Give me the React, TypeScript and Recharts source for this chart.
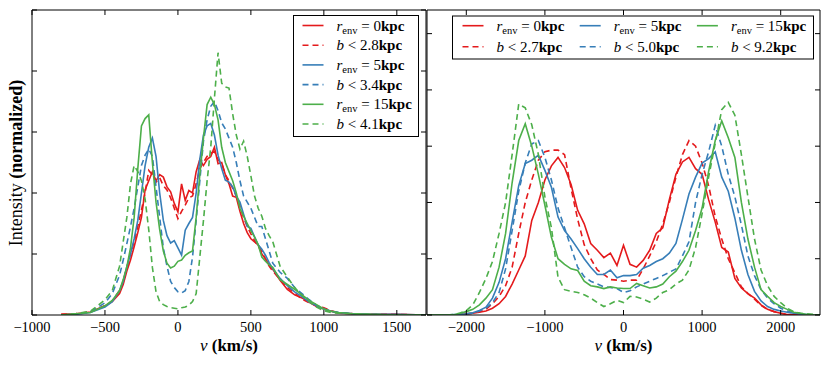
import React from 'react';
import { LineChart, Line, XAxis, YAxis } from 'recharts';

const SERIF = 'Liberation Serif, DejaVu Serif, serif';
const RED = '#e41a1c';
const BLUE = '#377eb8';
const GREEN = '#4daf4a';
const DASH = '6 4';

// left panel, velocity grid (km/s)
const leftVelocity = [
  -800, -700, -600, -500, -450, -400,
  -375, -350, -325, -300, -275, -250, -225, -200, -175, -150,
  -125, -100, -75, -50, -25, 0,
  25, 50, 75, 100, 125, 150, 175, 200, 225, 250,
  275, 300, 325, 350, 375, 400, 425, 450, 475, 500,
  525, 550, 575, 600, 625, 650,
  700, 750, 800, 850, 900, 950, 1000, 1050, 1100,
  1200, 1300, 1500, 1700,
];
const leftR0 = [
  0.01, 0.02, 0.05, 0.15, 0.22, 0.35,
  0.5, 0.72, 0.9, 1.12, 1.35, 1.6, 2.05, 2.2, 2.35, 2.2,
  2.3, 2.26, 2.1, 2.02, 1.83, 1.69,
  2.15, 1.88, 2.04, 2.0, 2.35, 2.55, 2.45, 2.55, 2.6, 2.75,
  2.48, 2.5, 2.3, 2.15, 1.95, 1.93, 1.7, 1.5, 1.35, 1.25,
  1.2, 1.15, 1.0, 0.92, 0.82, 0.75,
  0.57, 0.42, 0.33, 0.28, 0.21, 0.14, 0.1, 0.06, 0.03,
  0.02, 0.01, 0.01, 0,
];
const leftB0 = [
  0.01, 0.02, 0.05, 0.15, 0.23, 0.4,
  0.55, 0.78, 1.0, 1.2, 1.45, 1.72, 2.0, 2.37, 2.3, 2.18,
  2.25, 2.12, 2.05, 1.92, 1.75, 1.58,
  1.7, 1.8, 1.92, 1.95, 2.15, 2.4, 2.5, 2.6, 2.65, 2.68,
  2.55, 2.48, 2.3, 2.2, 2.08, 1.95, 1.78, 1.6, 1.45, 1.33,
  1.22, 1.13, 1.05, 0.92, 0.8, 0.72,
  0.58, 0.45, 0.36, 0.26, 0.2, 0.15, 0.12, 0.07, 0.04,
  0.02, 0.01, 0.01, 0,
];
const leftR5 = [
  0, 0.01, 0.04, 0.13, 0.22, 0.4,
  0.55, 0.79, 1.0, 1.25, 1.55, 2.0, 2.45, 2.75, 2.9, 2.6,
  2.0, 1.55, 1.3, 1.18, 1.22, 1.1,
  0.98, 1.39, 1.5, 1.6, 2.0, 2.55, 2.95, 3.1, 3.14, 2.95,
  2.62, 2.4, 2.21, 2.18, 2.1, 1.95, 1.85, 1.65, 1.45, 1.42,
  1.28, 1.15, 1.08, 0.98, 0.86, 0.76,
  0.6, 0.48, 0.38, 0.3, 0.21, 0.15, 0.1, 0.06, 0.04,
  0.02, 0.01, 0.01, 0,
];
const leftB5 = [
  0, 0.01, 0.05, 0.2, 0.35, 0.65,
  0.9, 1.17, 1.45, 1.75, 2.1, 2.45, 2.62, 2.72, 2.6, 2.1,
  1.6, 1.1, 0.8, 0.55, 0.45, 0.38,
  0.36, 0.4, 0.55, 0.95, 1.55, 2.2, 2.85, 3.2, 3.42, 3.5,
  3.35, 3.15, 3.05, 2.9, 2.75, 2.5, 2.2, 1.95, 1.85, 1.75,
  1.6, 1.45, 1.45, 1.25, 1.05, 0.85,
  0.7, 0.6, 0.45, 0.35, 0.25, 0.16, 0.1, 0.06, 0.04,
  0.02, 0.01, 0, 0,
];
const leftR15 = [
  0, 0.02, 0.04, 0.15, 0.24, 0.4,
  0.58, 0.79, 1.1, 1.6, 2.4, 3.1, 3.22, 3.28, 2.5, 1.85,
  1.4, 1.05, 0.85, 0.77, 0.8, 0.88,
  0.9, 0.98, 1.02, 1.05, 1.6, 2.3, 2.9, 3.45, 3.57, 3.45,
  3.2, 2.75, 2.5, 2.35, 2.2, 2.0, 1.75, 1.62, 1.5, 1.38,
  1.28, 1.15, 0.95, 0.88, 0.82, 0.78,
  0.58, 0.5, 0.42, 0.33, 0.24, 0.17, 0.1, 0.06, 0.04,
  0.02, 0.01, 0, 0,
];
const leftB15 = [
  0, 0.02, 0.06, 0.25, 0.4, 0.8,
  1.2, 1.6, 2.15, 2.45, 2.35, 2.2, 1.9, 1.4, 0.78, 0.38,
  0.22, 0.17, 0.14, 0.12, 0.11, 0.1,
  0.12, 0.13, 0.16, 0.22, 0.35, 0.95, 1.55, 2.2, 2.75, 3.55,
  4.3, 3.8, 3.74, 3.72, 3.3, 2.95, 2.72, 2.85, 2.6, 2.28,
  1.95, 1.75, 1.62, 1.42, 1.3, 1.2,
  0.8, 0.62, 0.45, 0.32, 0.22, 0.13, 0.07, 0.04, 0.03,
  0.02, 0.01, 0, 0,
];

// right panel, velocity bins (km/s)
const rightVelocity = [
  -2500, -2417, -2333, -2250, -2167, -2083, -2000, -1917, -1833, -1750,
  -1667, -1583, -1500, -1417, -1333, -1250, -1167, -1083, -1000, -917,
  -833, -750, -667, -583, -500, -417, -333, -250, -167, -83,
  0,
  83, 167, 250, 333, 417, 500, 583, 667, 750, 833,
  917, 1000, 1083, 1167, 1250, 1333, 1417, 1500, 1583, 1667,
  1750, 1833, 1917, 2000, 2083, 2167, 2250, 2333, 2417, 2500,
];
const rightR0 = [
  0, 0, 0, 0, 0, 0.01, 0.02, 0.03, 0.05, 0.07,
  0.12, 0.2, 0.33, 0.55, 0.8, 1.05, 1.68, 2.0, 2.4, 2.65,
  2.8, 2.62, 2.32, 1.86, 1.62, 1.27, 1.15, 1.02, 1.1, 0.88,
  1.24,
  0.9, 0.85, 0.97, 1.15, 1.45, 1.55, 2.05, 2.5, 2.72, 2.8,
  2.6, 2.5, 2.05, 1.65, 1.2, 1.12, 0.65, 0.48, 0.38, 0.3,
  0.18, 0.1, 0.06, 0.03, 0.01, 0.01, 0, 0, 0, 0,
];
const rightB0 = [
  0, 0, 0, 0, 0, 0.01, 0.02, 0.03, 0.06, 0.1,
  0.2, 0.33, 0.52, 0.85, 1.45, 2.0, 2.4, 2.75, 2.9, 2.93,
  2.93, 2.85, 2.25, 1.7, 1.25, 1.0, 0.8, 0.72, 0.63, 0.62,
  0.6,
  0.62, 0.62, 0.82, 1.05, 1.3, 1.62, 2.0, 2.45, 2.85, 3.1,
  3.0, 2.7, 2.3, 1.75, 1.35, 1.0, 0.75, 0.5, 0.38, 0.28,
  0.17, 0.1, 0.06, 0.03, 0.01, 0, 0, 0, 0, 0,
];
const rightR5 = [
  0, 0, 0, 0, 0.01, 0.01, 0.02, 0.04, 0.08, 0.14,
  0.3, 0.58, 1.0, 1.65, 2.3, 2.69, 2.75, 2.84, 2.57, 2.27,
  1.74, 1.5, 1.35, 1.18, 1.0, 0.85, 0.72, 0.72, 0.8, 0.66,
  0.7,
  0.7, 0.72, 0.83, 0.88, 0.95, 1.0, 1.1, 1.27, 1.7, 2.15,
  2.45, 2.7, 2.78, 2.9, 2.45, 2.2, 1.72, 1.15, 0.72, 0.42,
  0.25, 0.15, 0.1, 0.07, 0.05, 0.03, 0.02, 0.01, 0, 0,
];
const rightB5 = [
  0, 0, 0, 0, 0, 0.01, 0.02, 0.03, 0.07, 0.12,
  0.22, 0.4, 0.82, 1.5, 2.2, 2.7, 3.04, 3.1, 2.8, 2.4,
  1.9, 1.55, 1.2, 0.85, 0.68, 0.6, 0.55, 0.5, 0.49, 0.47,
  0.4,
  0.43, 0.5, 0.55, 0.6, 0.65, 0.7, 0.76, 0.82, 1.05, 1.3,
  2.0, 2.5, 2.9, 3.37, 3.0, 2.5, 2.1, 1.6, 1.05, 0.7,
  0.45, 0.3, 0.2, 0.12, 0.07, 0.04, 0.02, 0.01, 0, 0,
];
const rightR15 = [
  0, 0, 0, 0, 0, 0.03, 0.06, 0.1, 0.18, 0.3,
  0.45, 0.85, 1.45, 2.35, 3.1, 3.4, 3.0, 2.5, 1.95, 1.38,
  1.0, 0.9, 0.82, 0.79, 0.6, 0.52, 0.5, 0.47, 0.5, 0.48,
  0.47,
  0.47, 0.56, 0.52, 0.48, 0.5, 0.55, 0.68, 0.78, 0.95, 1.15,
  1.5, 1.9, 2.55, 3.1, 3.45, 3.15, 2.8, 2.0, 1.35, 0.85,
  0.45, 0.33, 0.22, 0.15, 0.1, 0.05, 0.03, 0.01, 0, 0,
];
const rightB15 = [
  0, 0, 0, 0, 0.01, 0.03, 0.08, 0.18, 0.4, 0.65,
  0.95, 1.45, 2.0, 2.85, 3.75, 3.68, 3.38, 2.85, 2.1, 1.55,
  0.67, 0.45, 0.42, 0.4, 0.36, 0.3, 0.22, 0.15, 0.2, 0.26,
  0.22,
  0.33, 0.32, 0.28, 0.23, 0.3, 0.4, 0.45, 0.55, 0.62, 0.8,
  1.2, 1.8, 2.45, 3.05, 3.65, 3.78, 3.55, 2.85, 2.1, 1.35,
  0.8, 0.52, 0.33, 0.22, 0.12, 0.06, 0.03, 0.02, 0.01, 0,
];

const leftTicksX = [-1000, -500, 0, 500, 1000, 1500];
const rightTicksX = [-2000, -1000, 0, 1000, 2000];
const ticksY = [0, 1, 2, 3, 4, 5];

const seriesStyle = [
  { key: 'r0', color: RED, dashed: false },
  { key: 'b0', color: RED, dashed: true },
  { key: 'r5', color: BLUE, dashed: false },
  { key: 'b5', color: BLUE, dashed: true },
  { key: 'r15', color: GREEN, dashed: false },
  { key: 'b15', color: GREEN, dashed: true },
];

const leftLegend = [
  { kind: 'r', value: '0', color: RED, dashed: false },
  { kind: 'b', value: '2.8', color: RED, dashed: true },
  { kind: 'r', value: '5', color: BLUE, dashed: false },
  { kind: 'b', value: '3.4', color: BLUE, dashed: true },
  { kind: 'r', value: '15', color: GREEN, dashed: false },
  { kind: 'b', value: '4.1', color: GREEN, dashed: true },
];
const rightLegend = [
  [
    { kind: 'r', value: '0', color: RED, dashed: false },
    { kind: 'b', value: '2.7', color: RED, dashed: true },
  ],
  [
    { kind: 'r', value: '5', color: BLUE, dashed: false },
    { kind: 'b', value: '5.0', color: BLUE, dashed: true },
  ],
  [
    { kind: 'r', value: '15', color: GREEN, dashed: false },
    { kind: 'b', value: '9.2', color: GREEN, dashed: true },
  ],
];

const buildRows = (velocity: number[], series: Record<string, number[]>) =>
  velocity.map((v, i) => {
    const row: Record<string, number> = { v };
    Object.keys(series).forEach((k) => {
      row[k] = series[k][i];
    });
    return row;
  });

const leftRows = buildRows(leftVelocity, {
  r0: leftR0, b0: leftB0, r5: leftR5, b5: leftB5, r15: leftR15, b15: leftB15,
});
const rightRows = buildRows(rightVelocity, {
  r0: rightR0, b0: rightB0, r5: rightR5, b5: rightB5, r15: rightR15, b15: rightB15,
});

const fmt = (v: number) => (v < 0 ? '\u2212' + Math.abs(v) : String(v));

// matplotlib style: ticks point inwards on all four spines
const BottomTick = (props: any) => {
  const { x, y, payload } = props;
  return (
    <g>
      <line x1={x} x2={x} y1={y} y2={y - 5} stroke="#000" />
      <text x={x} y={y + 17} textAnchor="middle" style={{ fontFamily: SERIF, fontSize: 14.5 }} fill="#000">
        {fmt(payload.value)}
      </text>
    </g>
  );
};
const TopTick = (props: any) => <line x1={props.x} x2={props.x} y1={props.y} y2={props.y + 5} stroke="#000" />;
const LeftTick = (props: any) => <line x1={props.x} x2={props.x + 5} y1={props.y} y2={props.y} stroke="#000" />;
const RightTick = (props: any) => <line x1={props.x - 5} x2={props.x} y1={props.y} y2={props.y} stroke="#000" />;

type PanelProps = {
  rows: Record<string, number>[];
  xDomain: [number, number];
  yDomain: [number, number];
  xTicks: number[];
  left: number;
  width: number;
  margin: { top: number; right: number; bottom: number; left: number };
};

const Panel = ({ rows, xDomain, yDomain, xTicks, left, width, margin }: PanelProps) => (
  <div style={{ position: 'absolute', left, top: 0 }}>
    <LineChart width={width} height={366} data={rows} margin={margin}>
      <XAxis
        xAxisId="bottom"
        type="number"
        dataKey="v"
        domain={xDomain}
        ticks={xTicks}
        allowDataOverflow
        interval={0}
        height={51}
        tickSize={0}
        tickMargin={0}
        tickLine={false}
        axisLine={{ stroke: '#000' }}
        tick={(p: any) => <BottomTick {...p} />}
      />
      <XAxis
        xAxisId="top"
        orientation="top"
        type="number"
        dataKey="v"
        domain={xDomain}
        ticks={xTicks}
        allowDataOverflow
        interval={0}
        height={1}
        tickSize={0}
        tickMargin={0}
        tickLine={false}
        axisLine={{ stroke: '#000' }}
        tick={(p: any) => <TopTick {...p} />}
      />
      <YAxis
        yAxisId="left"
        type="number"
        domain={yDomain}
        ticks={ticksY}
        allowDataOverflow
        interval={0}
        width={1}
        tickSize={0}
        tickMargin={0}
        tickLine={false}
        axisLine={{ stroke: '#000' }}
        tick={(p: any) => <LeftTick {...p} />}
      />
      <YAxis
        yAxisId="right"
        orientation="right"
        type="number"
        domain={yDomain}
        ticks={ticksY}
        allowDataOverflow
        interval={0}
        width={1}
        tickSize={0}
        tickMargin={0}
        tickLine={false}
        axisLine={{ stroke: '#000' }}
        tick={(p: any) => <RightTick {...p} />}
      />
      {seriesStyle.map((s) => (
        <Line
          key={s.key}
          xAxisId="bottom"
          yAxisId="left"
          type="linear"
          dataKey={s.key}
          stroke={s.color}
          strokeWidth={1.6}
          strokeDasharray={s.dashed ? DASH : undefined}
          dot={false}
          activeDot={false}
          isAnimationActive={false}
        />
      ))}
    </LineChart>
  </div>
);

const LegendEntry = ({ x, y, item }: { x: number; y: number; item: any }) => (
  <g>
    <line
      x1={x}
      x2={x + 21}
      y1={y}
      y2={y}
      stroke={item.color}
      strokeWidth={1.6}
      strokeDasharray={item.dashed ? DASH : undefined}
    />
    <text x={x + 34} y={y + 5} style={{ fontFamily: SERIF, fontSize: 15 }} fill="#000">
      {item.kind === 'r' ? (
        <>
          <tspan fontStyle="italic">r</tspan>
          <tspan style={{ fontSize: 10.5 }} dy={3}>env</tspan>
          <tspan dy={-3}>{'\u00a0=\u00a0' + item.value}</tspan>
        </>
      ) : (
        <>
          <tspan fontStyle="italic">b</tspan>
          <tspan>{'\u00a0<\u00a0' + item.value}</tspan>
        </>
      )}
      <tspan fontWeight="bold">kpc</tspan>
    </text>
  </g>
);

const Overlay = () => (
  <svg width={830} height={366} style={{ position: 'absolute', left: 0, top: 0, pointerEvents: 'none' }}>
    <text
      transform="translate(22,163) rotate(-90)"
      textAnchor="middle"
      style={{ fontFamily: SERIF, fontSize: 18 }}
      fill="#000"
    >
      Intensity <tspan fontWeight="bold">(normalized)</tspan>
    </text>
    <text x={229} y={351} textAnchor="middle" style={{ fontFamily: SERIF, fontSize: 17 }} fill="#000">
      <tspan fontStyle="italic">v</tspan> <tspan fontWeight="bold">(km/s)</tspan>
    </text>
    <text x={623.5} y={351} textAnchor="middle" style={{ fontFamily: SERIF, fontSize: 17 }} fill="#000">
      <tspan fontStyle="italic">v</tspan> <tspan fontWeight="bold">(km/s)</tspan>
    </text>

    <rect x={293.5} y={15.5} width={125} height={121} fill="#fff" stroke="#000" strokeWidth={1} />
    {leftLegend.map((item, i) => (
      <LegendEntry key={i} x={302.5} y={25.5 + i * 19.7} item={item} />
    ))}

    <rect x={452.5} y={16} width={361} height={43} fill="#fff" stroke="#000" strokeWidth={1} />
    {rightLegend.map((col, c) =>
      col.map((item, r) => (
        <LegendEntry key={`${c}-${r}`} x={462.5 + c * 117.2} y={25.7 + r * 21} item={item} />
      ))
    )}
  </svg>
);

export default function App() {
  return (
    <div
      style={{
        position: 'absolute',
        left: 0,
        top: 0,
        width: 830,
        height: 366,
        background: '#fff',
        overflow: 'hidden',
        fontFamily: SERIF,
      }}
    >
      <Panel
        rows={leftRows}
        xDomain={[-1000, 1700]}
        yDomain={[0, 5]}
        xTicks={leftTicksX}
        left={0}
        width={430}
        margin={{ top: 9, right: 3, bottom: 0, left: 31 }}
      />
      <Panel
        rows={rightRows}
        xDomain={[-2500, 2500]}
        yDomain={[0, 5.42]}
        xTicks={rightTicksX}
        left={426}
        width={404}
        margin={{ top: 9, right: 9, bottom: 0, left: 0 }}
      />
      <Overlay />
    </div>
  );
}
